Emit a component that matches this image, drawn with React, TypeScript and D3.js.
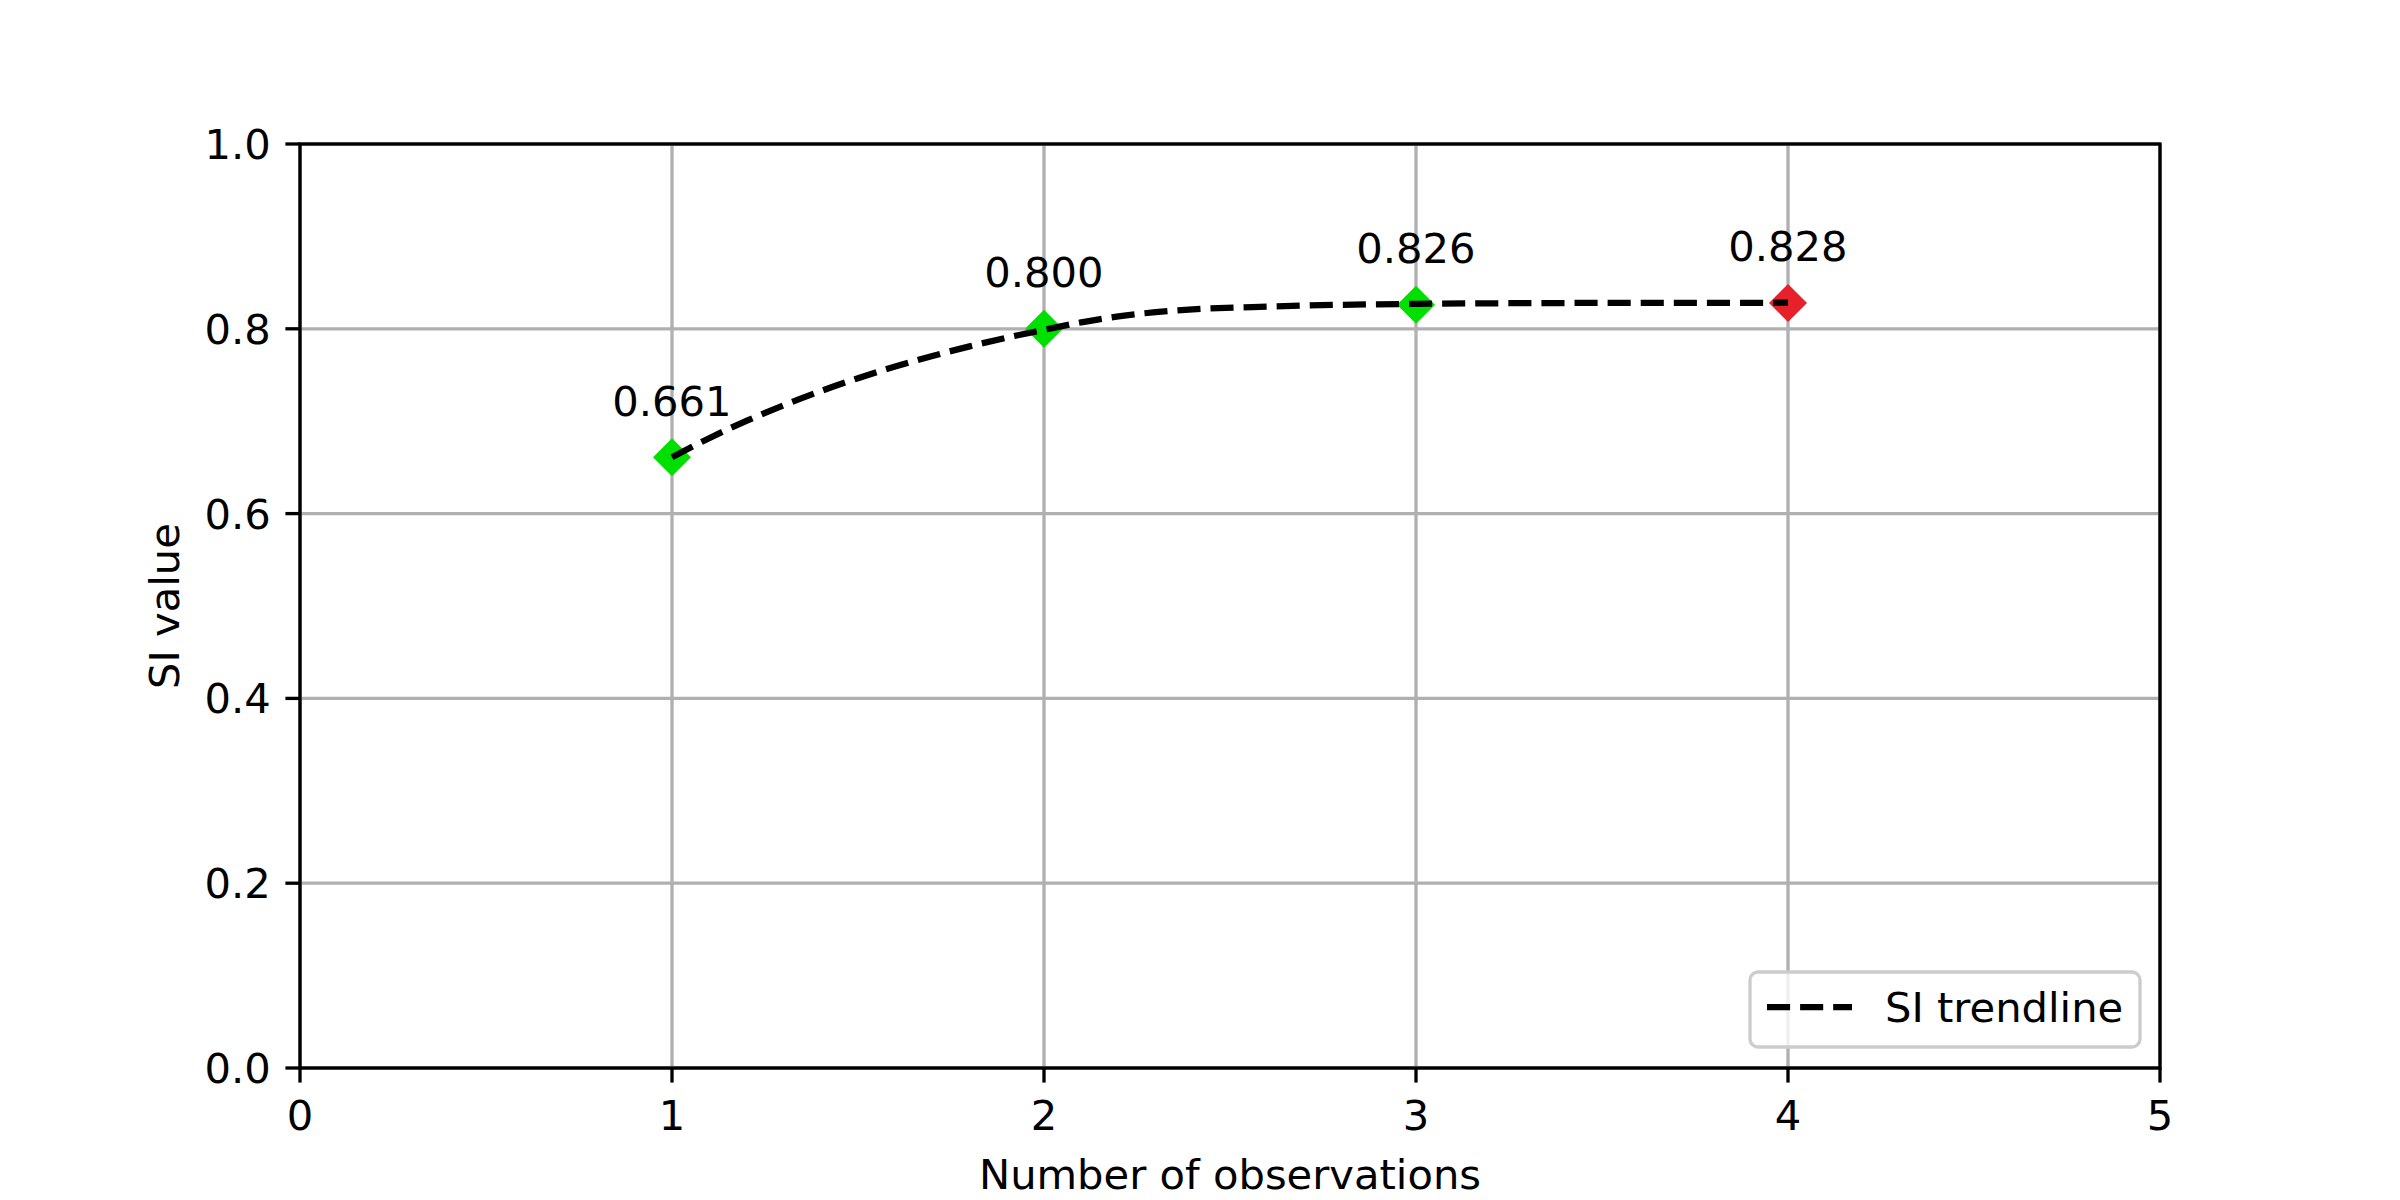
import React from "react";
import * as d3 from "d3";

const observations = [1, 2, 3, 4];
const siValues = [0.661, 0.8, 0.826, 0.828];
const valueLabels = ["0.661", "0.800", "0.826", "0.828"];

const trendX = [1, 1.1, 1.2, 1.3, 1.4, 1.5, 1.6, 1.7, 1.8, 1.9, 2.0, 2.1, 2.2, 2.3, 2.4, 2.6, 2.8, 3.0, 3.5, 4.0];
const trendY = [0.661, 0.6816, 0.7003, 0.7172, 0.7326, 0.7465, 0.7591, 0.7706, 0.781, 0.7904, 0.7989, 0.807, 0.8135, 0.818, 0.821, 0.824, 0.826, 0.827, 0.828, 0.8282];

const xTicks = [0, 1, 2, 3, 4, 5];
const yTicks = [0, 0.2, 0.4, 0.6, 0.8, 1.0];

const legendLabel = "SI trendline";
const xTitle = "Number of observations";
const yTitle = "SI value";

const W = 2400;
const H = 1200;
const M = { left: 300, right: 2160, top: 144, bottom: 1068 };
const FS = 41.67;
const LW = 3.33;
const FONT = "DejaVu Sans, sans-serif";
const GREEN = "#00e000";
const RED = "#e6212a";

export default function App() {
  const x = d3.scaleLinear().domain([0, 5]).range([M.left, M.right]);
  const y = d3.scaleLinear().domain([0, 1]).range([M.bottom, M.top]);
  const line = d3
    .line<number>()
    .x((_, i) => x(trendX[i]))
    .y((d) => y(d))
    .curve(d3.curveMonotoneX);
  const trendPath = line(trendY) || "";
  const fmtY = d3.format(".1f");
  const r = 19;
  const dash = "23.1,10";

  const legX = 1750;
  const legY = 972;
  const legW = 390;
  const legH = 75;

  return (
    <svg
      width={W}
      height={H}
      style={{ position: "absolute", left: 0, top: 0, background: "#fff" }}
      fontFamily={FONT}
    >
      <rect x={0} y={0} width={W} height={H} fill="#fff" />
      {xTicks.map((t) => (
        <line key={"gx" + t} x1={x(t)} x2={x(t)} y1={M.top} y2={M.bottom} stroke="#b0b0b0" strokeWidth={LW} />
      ))}
      {yTicks.map((t) => (
        <line key={"gy" + t} x1={M.left} x2={M.right} y1={y(t)} y2={y(t)} stroke="#b0b0b0" strokeWidth={LW} />
      ))}
      {observations.map((o, i) => {
        const cx = x(o);
        const cy = y(siValues[i]);
        return (
          <path
            key={"m" + i}
            d={`M${cx},${cy - r}L${cx + r},${cy}L${cx},${cy + r}L${cx - r},${cy}Z`}
            fill={i === observations.length - 1 ? RED : GREEN}
          />
        );
      })}
      <path d={trendPath} fill="none" stroke="#000" strokeWidth={6.25} strokeDasharray={dash} />
      {observations.map((o, i) => (
        <text key={"l" + i} x={x(o)} y={y(siValues[i]) - 41.67} textAnchor="middle" fontSize={FS} fill="#000">
          {valueLabels[i]}
        </text>
      ))}
      <rect x={M.left} y={M.top} width={M.right - M.left} height={M.bottom - M.top} fill="none" stroke="#000" strokeWidth={LW} />
      {xTicks.map((t) => (
        <g key={"xt" + t}>
          <line x1={x(t)} x2={x(t)} y1={M.bottom} y2={M.bottom + 14.6} stroke="#000" strokeWidth={LW} />
          <text x={x(t)} y={1130} textAnchor="middle" fontSize={FS} fill="#000">
            {t}
          </text>
        </g>
      ))}
      {yTicks.map((t) => (
        <g key={"yt" + t}>
          <line x1={M.left - 14.6} x2={M.left} y1={y(t)} y2={y(t)} stroke="#000" strokeWidth={LW} />
          <text x={M.left - 29.2} y={y(t)} dy="0.36em" textAnchor="end" fontSize={FS} fill="#000">
            {fmtY(t)}
          </text>
        </g>
      ))}
      <text x={(M.left + M.right) / 2} y={1189} textAnchor="middle" fontSize={FS} fill="#000">
        {xTitle}
      </text>
      <text
        transform={`translate(179,${(M.top + M.bottom) / 2}) rotate(-90)`}
        textAnchor="middle"
        fontSize={FS}
        fill="#000"
      >
        {yTitle}
      </text>
      <rect
        x={legX}
        y={legY}
        width={legW}
        height={legH}
        rx={8}
        ry={8}
        fill="#fff"
        fillOpacity={0.8}
        stroke="#cccccc"
        strokeWidth={LW}
      />
      <line x1={1767} x2={1852} y1={1007} y2={1007} stroke="#000" strokeWidth={6.25} strokeDasharray={dash} />
      <text x={1885} y={1022} fontSize={FS} fill="#000">
        {legendLabel}
      </text>
    </svg>
  );
}
